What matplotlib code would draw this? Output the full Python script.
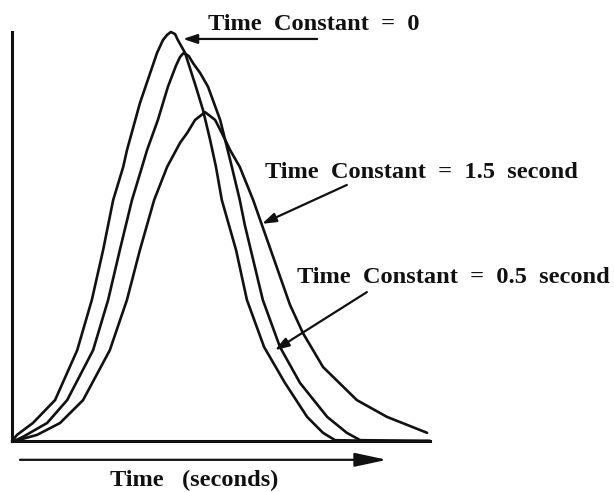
import matplotlib
matplotlib.use("Agg")
import matplotlib.pyplot as plt

t_tc0 = [0.00, 0.12, 0.50, 1.03, 1.56, 1.91, 2.18, 2.42, 2.66, 2.75, 3.06, 3.25, 3.47,
         3.61, 3.71, 3.80, 3.90, 3.97, 4.14, 4.40, 4.57, 4.74, 4.88, 5.02, 5.19, 5.36,
         5.62, 6.03, 6.53, 7.06, 7.44, 7.73, 8.80, 10.0]
v_tc0 = [0.000, 0.015, 0.044, 0.100, 0.222, 0.345, 0.467, 0.589, 0.670, 0.711, 0.826, 0.883, 0.949,
         0.980, 0.993, 1.000, 0.995, 0.980, 0.949, 0.866, 0.809, 0.736, 0.670, 0.589, 0.528, 0.467,
         0.345, 0.230, 0.142, 0.059, 0.020, 0.002, 0.000, 0.000]

t_tc05 = [0.05, 0.26, 0.84, 1.32, 1.94, 2.30, 2.58, 2.87, 3.11, 3.23, 3.49, 3.73, 3.92,
          4.02, 4.11, 4.23, 4.33, 4.50, 4.69, 4.98, 5.10, 5.26, 5.45, 5.57, 6.00, 6.41,
          6.89, 7.54, 8.01, 8.33, 10.0]
v_tc05 = [0.000, 0.010, 0.044, 0.100, 0.222, 0.345, 0.467, 0.589, 0.670, 0.711, 0.785, 0.866, 0.917,
          0.939, 0.949, 0.941, 0.924, 0.900, 0.866, 0.785, 0.736, 0.670, 0.589, 0.528, 0.345, 0.230,
          0.142, 0.059, 0.020, 0.002, 0.000]

t_tc15 = [0.07, 0.60, 1.15, 1.70, 2.34, 2.75, 3.06, 3.40, 3.71, 4.02, 4.19, 4.38, 4.62,
          4.86, 5.02, 5.22, 5.45, 5.77, 5.98, 6.65, 6.96, 7.44, 8.25, 8.97, 9.93]
v_tc15 = [0.000, 0.015, 0.044, 0.100, 0.222, 0.345, 0.467, 0.589, 0.670, 0.729, 0.753, 0.785, 0.804,
          0.785, 0.753, 0.711, 0.670, 0.589, 0.528, 0.333, 0.264, 0.181, 0.100, 0.059, 0.020]

labels = ["Time  Constant  =  0",
          "Time  Constant  =  1.5  second",
          "Time  Constant  =  0.5  second"]
xlabel = "Time   (seconds)"

ink = "#111111"
font = dict(family="Liberation Serif", weight="bold", size=17.6, color=ink)
pointer = dict(arrowstyle="-|>,head_length=0.6,head_width=0.2", color=ink,
               lw=1.6, mutation_scale=14, shrinkA=0, shrinkB=0)

fig = plt.figure(figsize=(6.14, 4.92), dpi=100)
ax = fig.add_axes([12 / 614, 51 / 492, 418 / 614, 409 / 492])
ax.set_xlim(0, 10)
ax.set_ylim(0, 1)

for t, v in [(t_tc0, v_tc0), (t_tc05, v_tc05), (t_tc15, v_tc15)]:
    ax.plot(t, v, color=ink, lw=1.9, clip_on=False,
            solid_joinstyle="round", solid_capstyle="round")

for side in ["top", "right"]:
    ax.spines[side].set_visible(False)
for side in ["left", "bottom"]:
    ax.spines[side].set_linewidth(2.2)
    ax.spines[side].set_color(ink)
ax.set_xticks([])
ax.set_yticks([])

# labels with pointer arrows
ax.text(4.69, 1.005, labels[0], ha="left", va="baseline", **font)
ax.annotate("", xy=(4.09, 0.983), xytext=(7.30, 0.983),
            arrowprops=pointer, annotation_clip=False)

ax.text(6.05, 0.643, labels[1], ha="left", va="baseline", **font)
ax.annotate("", xy=(5.98, 0.531), xytext=(8.01, 0.626),
            arrowprops=pointer, annotation_clip=False)

ax.text(6.82, 0.386, labels[2], ha="left", va="baseline", **font)
ax.annotate("", xy=(6.29, 0.222), xytext=(8.49, 0.364),
            arrowprops=pointer, annotation_clip=False)

# time direction arrow under the axis
ax.annotate("", xy=(8.97, -0.046), xytext=(0.19, -0.046),
            arrowprops=dict(arrowstyle="-|>,head_length=1.4,head_width=0.3", color=ink,
                            lw=1.6, mutation_scale=14, shrinkA=0, shrinkB=0),
            annotation_clip=False)
ax.text(2.34, -0.110, xlabel, ha="left", va="baseline", clip_on=False, **font)

fig.savefig("out.png", dpi=100, facecolor="white")
